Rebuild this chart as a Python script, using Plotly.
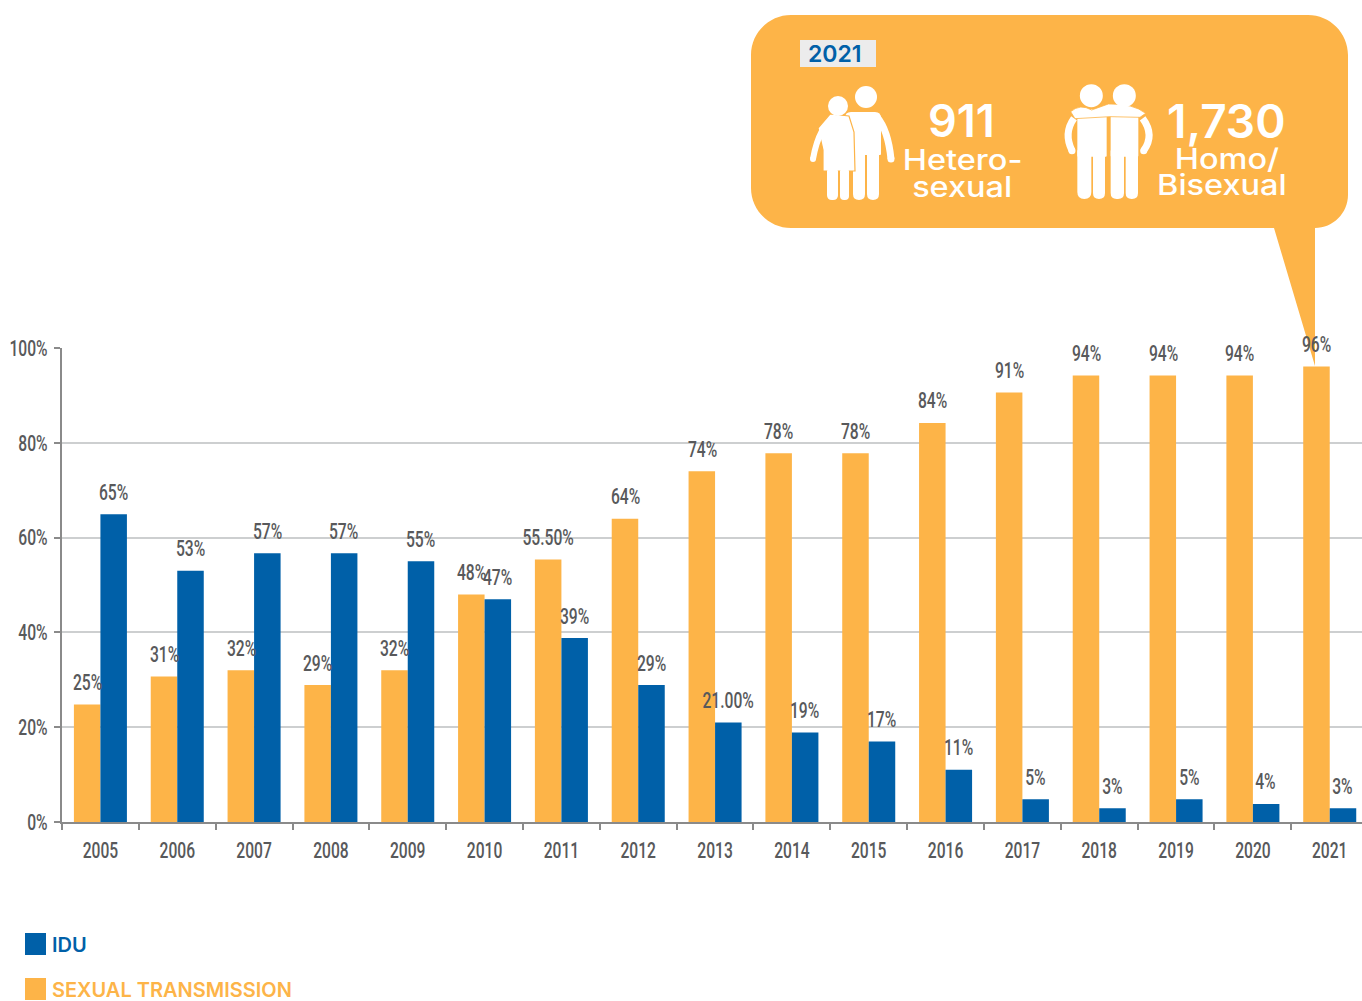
import plotly.graph_objects as go

years = [str(y) for y in range(2005, 2022)]
idu = [64.9, 53, 56.7, 56.7, 55, 47, 38.8, 28.9, 21, 18.9, 17, 11, 4.8, 2.9, 4.8, 3.8, 2.9]
sexual = [24.8, 30.7, 32, 28.9, 32, 48, 55.4, 64, 74, 77.8, 77.8, 84.2, 90.6, 94.2, 94.2, 94.2, 96.1]
idu_labels = ["65%", "53%", "57%", "57%", "55%", "47%", "39%", "29%", "21.00%", "19%", "17%", "11%", "5%", "3%", "5%", "4%", "3%"]
sexual_labels = ["25%", "31%", "32%", "29%", "32%", "48%", "55.50%", "64%", "74%", "78%", "78%", "84%", "91%", "94%", "94%", "94%", "96%"]

ORANGE = "#FDB448"
BLUE = "#0060A8"
GREY = "#58595B"
W, H = 1362, 1001
L, T, R, B = 62, 348, 0, 179
SANS = "Inter, 'Noto Sans', sans-serif"
COND = dict(family="Roboto", size=22, color=GREY, weight=500)

def px(x):
    return (x - L) / (W - L - R)
def py(y):
    return (H - B - y) / (H - T - B)
def P(x, y):
    return f"{px(x):.5f},{py(y):.5f}"

def shape_path(cmds, fill, line=None, lw=0):
    return dict(type="path", xref="paper", yref="paper", path=cmds, fillcolor=fill,
                line=dict(color=line or fill, width=lw), layer="above")

def rect(x0, y0, x1, y1, fill):
    return dict(type="rect", xref="paper", yref="paper", x0=px(x0), x1=px(x1), y0=py(y0), y1=py(y1),
                fillcolor=fill, line=dict(width=0), layer="above")

def circle(cx, cy, r, fill="white"):
    return dict(type="circle", xref="paper", yref="paper", x0=px(cx - r), x1=px(cx + r),
                y0=py(cy + r), y1=py(cy - r), fillcolor=fill, line=dict(width=0), layer="above")

def round_rect(x0, y0, x1, y1, r, fill="white", rb=None):
    rb = r if rb is None else rb
    return shape_path(
        f"M{P(x0, y0 + r)} Q{P(x0, y0)} {P(x0 + r, y0)} L{P(x1 - r, y0)} Q{P(x1, y0)} {P(x1, y0 + r)} "
        f"L{P(x1, y1 - rb)} Q{P(x1, y1)} {P(x1 - rb, y1)} L{P(x0 + rb, y1)} Q{P(x0, y1)} {P(x0, y1 - rb)} Z", fill)

def stroke(points, width, color="white"):
    d = "M" + P(*points[0])
    if len(points) == 3:
        d += f" Q{P(*points[1])} {P(*points[2])}"
    else:
        d += "".join(" L" + P(*p) for p in points[1:])
    return [dict(type="path", xref="paper", yref="paper", path=d, line=dict(color=color, width=width), layer="above"),
            circle(points[-1][0], points[-1][1], width / 2, color)]

x0, y0, x1, y1, r = 751, 15, 1348, 228, 40
bubble = (
    f"M{P(x0, y0 + r)} C{P(x0, y0 + r*0.45)} {P(x0 + r*0.45, y0)} {P(x0 + r, y0)} "
    f"L{P(x1 - r, y0)} C{P(x1 - r*0.45, y0)} {P(x1, y0 + r*0.45)} {P(x1, y0 + r)} "
    f"L{P(x1, y1 - 33)} C{P(x1, y1 - 15)} {P(x1 - 15, y1)} {P(1315, y1)} "
    f"L{P(1315, 366)} L{P(1274, y1)} "
    f"L{P(x0 + r, y1)} C{P(x0 + r*0.45, y1)} {P(x0, y1 - r*0.45)} {P(x0, y1 - r)} Z"
)
shapes = [shape_path(bubble, ORANGE), rect(800, 40, 876, 67, "#ECECEC")]

shapes += [circle(866, 97, 11)]
shapes += [round_rect(845, 112, 881, 155, 6, rb=1)]
shapes += [round_rect(853, 150, 865, 200, 1, rb=6), round_rect(867, 150, 879, 200, 1, rb=6)]
shapes += stroke([(877, 117), (888, 130), (891, 159)], 7)
shapes += [shape_path(
    f"M{P(830, 114)} L{P(849, 116)} L{P(854, 132)} L{P(855, 171)} L{P(823, 171)} L{P(823, 150)} L{P(818, 128)} Z",
    "white", ORANGE, 1.2)]
shapes += [circle(838, 106, 10)]
shapes += stroke([(822, 131), (816, 142), (813, 159)], 6)
shapes += [round_rect(827, 170, 838, 200, 1, rb=5), round_rect(840, 170, 849, 200, 1, rb=4)]

ox, oy = 1050, 60
def z(x, y):
    return (ox + x / 3, oy + y / 3)
shapes += [round_rect(*z(82, 148), *z(170, 290), 3, rb=1), round_rect(*z(182, 148), *z(265, 290), 3, rb=1)]
shapes += [round_rect(*z(82, 270), *z(124, 417), 1, rb=7), round_rect(*z(129, 270), *z(165, 417), 1, rb=6),
           round_rect(*z(182, 270), *z(222, 417), 1, rb=6), round_rect(*z(227, 270), *z(264, 417), 1, rb=6)]
shapes += stroke([z(72, 175), z(40, 220), z(66, 272)], 7)
shapes += stroke([z(278, 175), z(315, 225), z(281, 272)], 7)
shapes += [shape_path(f"M{P(*z(62, 155))} Q{P(*z(90, 130))} {P(*z(125, 150))} L{P(*z(175, 132))} "
                      f"Q{P(*z(250, 130))} {P(*z(287, 160))} L{P(*z(270, 172))} L{P(*z(180, 170))} L{P(*z(75, 176))} Z",
                      "white", ORANGE, 0.8)]
shapes += [circle(*z(124, 107), 11.5), circle(*z(223, 107), 11.5)]

shapes += [rect(25, 933, 46, 955, BLUE), rect(25, 978, 46, 1000, ORANGE)]

fig = go.Figure()
fig.add_bar(x=years, y=sexual, name="SEXUAL TRANSMISSION", marker_color=ORANGE, marker_line_width=0)
fig.add_bar(x=years, y=idu, name="IDU", marker_color=BLUE, marker_line_width=0)

annotations = []
for i, (v, t) in enumerate(zip(sexual, sexual_labels)):
    annotations.append(dict(x=i, y=v, text=t, xref="x", yref="y", showarrow=False, xshift=-13, yshift=22, font=COND))
for i, (v, t) in enumerate(zip(idu, idu_labels)):
    annotations.append(dict(x=i, y=v, text=t, xref="x", yref="y", showarrow=False, xshift=13, yshift=22, font=COND))

def label(x, y, text, size, color="white", weight=600, anchor="center"):
    annotations.append(dict(x=px(x), y=py(y), xref="paper", yref="paper", text=text, showarrow=False,
                            xanchor=anchor, yanchor="middle", font=dict(family=SANS, size=size, color=color, weight=weight)))

label(835, 54, "2021", 23, BLUE)
label(961, 121, "911", 45)
label(1226, 121, "1,730", 46)
label(962, 160, "Hetero-", 28, weight=500)
label(962, 187, "sexual", 28, weight=500)
label(1227, 159, "Homo/", 28, weight=500)
label(1222, 185, "Bisexual", 28, weight=500)
label(50, 945, "IDU", 20, BLUE, anchor="left")
label(50, 990, "SEXUAL TRANSMISSION", 20, ORANGE, anchor="left")

fig.update_layout(
    width=W, height=H, autosize=False, margin=dict(l=L, r=R, t=T, b=B, pad=0, autoexpand=False),
    paper_bgcolor="white", plot_bgcolor="white", barmode="group", bargap=0.31, bargroupgap=0,
    showlegend=False, shapes=shapes, annotations=annotations,
)
fig.update_xaxes(type="category", categoryorder="array", categoryarray=years, automargin=False,
                 range=[-0.5, 16.42], tickson="boundaries", ticks="outside", ticklen=6, tickwidth=1.5,
                 tickcolor="#8A8A8A", showline=True, linecolor="#8A8A8A", linewidth=2, showgrid=False,
                 ticklabelstandoff=8, tickfont=COND)
fig.update_yaxes(range=[0, 100], tickvals=[0, 20, 40, 60, 80, 100], ticktext=["0%", "20%", "40%", "60%", "80%", "100%"],
                 ticks="outside", ticklen=6, tickwidth=1.5, tickcolor="#8A8A8A", showline=True, linecolor="#8A8A8A",
                 linewidth=2, gridcolor="#CDCFD0", gridwidth=1.5, zeroline=False, ticklabelstandoff=2, automargin=False,
                 tickfont=COND)

# The reference's condensed face is not installed: narrow the real text glyphs instead.
post = """
document.body.style.margin='0';document.body.style.overflow='hidden';
document.querySelectorAll('svg text').forEach(function(t){
  var f=window.getComputedStyle(t), k=1;
  if(f.fontFamily.indexOf('Roboto')>=0){k=0.71;}
  else if(f.fontSize==='28px'){k=1.16;}
  if(k!==1){t.setAttribute('textLength',(t.getComputedTextLength()*k).toFixed(1));t.setAttribute('lengthAdjust','spacingAndGlyphs');}
});
"""
fig.write_html("out.html", config=dict(displayModeBar=False), post_script=post)
